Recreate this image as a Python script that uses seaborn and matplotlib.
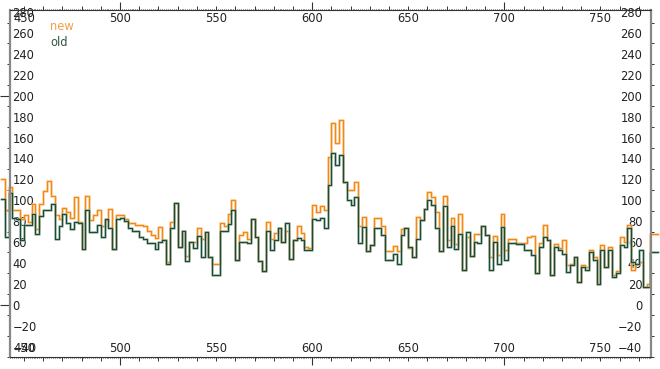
import numpy as np
import pandas as pd
import matplotlib
matplotlib.use('Agg')
import matplotlib.pyplot as plt
import matplotlib.patheffects as pe
from matplotlib.lines import Line2D
from matplotlib.ticker import MultipleLocator, FixedLocator
import seaborn as sns

# bin counts, 2 units per bin starting at 438
bin_start = 438
bin_width = 2

new_counts = [
    120, 91, 113, 91, 91, 82, 86, 79, 96, 72,
    96, 109, 118, 104, 86, 82, 93, 89, 83, 103,
    79, 53, 104, 81, 86, 91, 75, 81, 92, 53,
    86, 86, 82, 78, 78, 76, 76, 75, 71, 67,
    64, 74, 62, 41, 79, 97, 55, 71, 47, 60,
    60, 73, 63, 70, 46, 39, 39,
    78, 75, 87, 100, 43, 67, 70, 63, 82, 65,
    42, 32, 79, 63, 69, 73, 60, 71, 44, 62,
    75, 69, 55, 54, 95, 89, 94, 91, 141, 174,
    155, 177, 117, 110, 110, 117, 75, 84, 51, 57,
    83, 83, 75, 51,
    51, 56, 51, 72, 73, 54, 46, 84, 81, 92,
    108, 103, 89, 51, 104, 62, 83, 58, 87, 33,
    65, 47, 68, 68, 75, 67, 46, 66, 48, 87,
    52, 63, 63, 59,
    59, 59, 65, 66, 30, 59, 76, 62, 28, 58,
    54, 62, 38, 39, 46, 22, 38, 36, 52, 46,
    20, 57, 36, 55, 28, 32, 65, 60, 76, 33,
    39, 41, 17, 20, 68, 68,
]

old_counts = [
    101, 65, 107, 83, 82, 62, 76, 76, 87, 68,
    85, 91, 91, 96, 63, 75, 87, 78, 72, 79,
    78, 53, 91, 70, 70, 76, 65, 82, 73, 53,
    82, 83, 80, 73, 71, 71, 65, 63, 59, 59,
    53, 60, 62, 39, 73, 97, 55, 71, 42, 60,
    54, 66, 46, 70, 46, 28, 28,
    71, 71, 77, 91, 43, 60, 60, 59, 82, 65,
    42, 32, 71, 52, 62, 73, 60, 78, 44, 62,
    64, 62, 52, 52, 82, 81, 83, 73, 115, 145,
    134, 143, 117, 100, 95, 103, 59, 74, 51, 57,
    73, 73, 67, 43,
    43, 49, 39, 67, 73, 55, 46, 63, 81, 92,
    100, 95, 73, 51, 94, 55, 75, 53, 68, 33,
    70, 47, 60, 59, 75, 67, 33, 60, 39, 74,
    43, 59, 59, 58,
    58, 52, 52, 48, 30, 55, 65, 62, 28, 55,
    52, 49, 31, 38, 46, 22, 36, 33, 50, 43,
    20, 52, 36, 52, 27, 30, 57, 55, 73, 41,
    39, 52, 17, 17, 50, 50,
]

x_ticks_labelled = [450, 500, 550, 600, 650, 700, 750]
x_long_ticks = [500, 600, 700]
y_long_ticks = [0, 200]

new_color, new_halo = '#f08a10', '#f9bd80'
old_color, old_halo = '#1d4a32', '#88a596'

# step data: each bin's left edge, plus the closing edge
n = len(new_counts)
edges = bin_start + bin_width * np.arange(n + 1)
df = pd.DataFrame({
    'x': np.r_[edges, edges],
    'y': np.r_[new_counts, new_counts[-1:], old_counts, old_counts[-1:]],
    'series': ['new'] * (n + 1) + ['old'] * (n + 1),
})

sns.set_theme(style='white')
plt.rcParams['font.family'] = ['DejaVu Sans']
fs = 8.3

fig = plt.figure(figsize=(6.6, 3.69), dpi=100)
ax = fig.add_axes([9.5 / 660, 12 / 369, 641.5 / 660, 347 / 369])

for name, col, halo in [('new', new_color, new_halo), ('old', old_color, old_halo)]:
    sns.lineplot(data=df[df['series'] == name], x='x', y='y', ax=ax,
                 color=col, lw=0.8, drawstyle='steps-post', clip_on=False,
                 path_effects=[pe.Stroke(linewidth=2.1, foreground=halo, alpha=0.65), pe.Normal()])

ax.set_xlim(442.5, 776.3)
ax.set_ylim(-50, 282)
ax.set_xlabel('')
ax.set_ylabel('')

# spines
for s in ['left', 'right']:
    ax.spines[s].set_color('#888888')
    ax.spines[s].set_linewidth(1.6)
for s in ['top', 'bottom']:
    ax.spines[s].set_color('#333333')
    ax.spines[s].set_linewidth(0.8)

tick_col = '#333333'
text_col = '#222222'

# main x ticks: labelled every 50 at bottom, small ticks every 10
ax.xaxis.set_major_locator(FixedLocator(x_ticks_labelled))
ax.xaxis.set_minor_locator(MultipleLocator(10))
ax.tick_params(axis='x', which='both', direction='out', length=2.9, width=0.7,
               color=tick_col, top=True, bottom=True, labeltop=False, labelbottom=True)
ax.tick_params(axis='x', which='major', pad=-4.6, labelcolor=text_col, labelsize=fs)

# main y ticks: labels every 20 inside left, small ticks at odd tens
ax.yaxis.set_major_locator(MultipleLocator(20))
ax.yaxis.set_minor_locator(FixedLocator(np.arange(-50, 290, 20)))
ax.tick_params(axis='y', which='major', length=0, pad=-2.2, labelcolor=text_col,
               labelsize=fs, left=True, right=True, labelleft=True, labelright=False)
ax.tick_params(axis='y', which='minor', direction='out', length=2.2, width=0.7,
               color=tick_col, left=True, right=True)


def hide_spines(sec):
    for sp in sec.spines.values():
        sp.set_visible(False)


# top: labels + dotted fine ticks
sec_top = ax.secondary_xaxis('top')
hide_spines(sec_top)
sec_top.xaxis.set_major_locator(FixedLocator(x_ticks_labelled))
sec_top.xaxis.set_minor_locator(MultipleLocator(1))
sec_top.tick_params(which='major', length=0, pad=-1.2, labelcolor=text_col, labelsize=fs)
sec_top.tick_params(which='minor', length=1.0, width=0.7, color=tick_col, direction='out')

sec_top_long = ax.secondary_xaxis('top')
hide_spines(sec_top_long)
sec_top_long.xaxis.set_major_locator(FixedLocator(x_long_ticks))
sec_top_long.xaxis.set_minor_locator(FixedLocator([]))
sec_top_long.tick_params(which='major', length=6.0, width=0.8, color=tick_col,
                         direction='out', labeltop=False, labelbottom=False)

sec_bot = ax.secondary_xaxis('bottom')
hide_spines(sec_bot)
sec_bot.xaxis.set_major_locator(FixedLocator(x_long_ticks))
sec_bot.xaxis.set_minor_locator(MultipleLocator(1))
sec_bot.tick_params(which='major', length=6.0, width=0.8, color=tick_col,
                    direction='out', labelbottom=False, labeltop=False)
sec_bot.tick_params(which='minor', length=1.0, width=0.7, color=tick_col, direction='out')

# right: labels inside + long ticks
sec_right = ax.secondary_yaxis('right')
hide_spines(sec_right)
sec_right.yaxis.set_major_locator(MultipleLocator(20))
sec_right.yaxis.set_minor_locator(FixedLocator(y_long_ticks))
sec_right.tick_params(which='major', length=0, pad=-6.3, labelcolor=text_col, labelsize=fs)
sec_right.tick_params(which='minor', length=6.5, width=0.8, color=tick_col, direction='out')

sec_left = ax.secondary_yaxis('left')
hide_spines(sec_left)
sec_left.yaxis.set_major_locator(FixedLocator(y_long_ticks))
sec_left.yaxis.set_minor_locator(FixedLocator([]))
sec_left.tick_params(which='major', length=7.0, width=0.8, color=tick_col,
                     direction='out', labelleft=False, labelright=False)

# legend: coloured text only
handles = [Line2D([], [], lw=0), Line2D([], [], lw=0)]
leg = ax.legend(handles, ['new', 'old'], loc='upper left', bbox_to_anchor=(0.063, 0.972),
                frameon=False, handlelength=0, handletextpad=0, borderpad=0,
                borderaxespad=0, labelspacing=0.3, fontsize=fs,
                labelcolor=['#f0a048', '#2d5a40'])

# alignment of labels drawn inside the frame
plt.setp(ax.get_yticklabels(), ha='left')
plt.setp(ax.get_xticklabels(), va='bottom')
plt.setp(sec_right.get_yticklabels(), ha='right')
plt.setp(sec_top.get_xticklabels(), va='top')

fig.savefig('out.png', dpi=100, facecolor='white')
